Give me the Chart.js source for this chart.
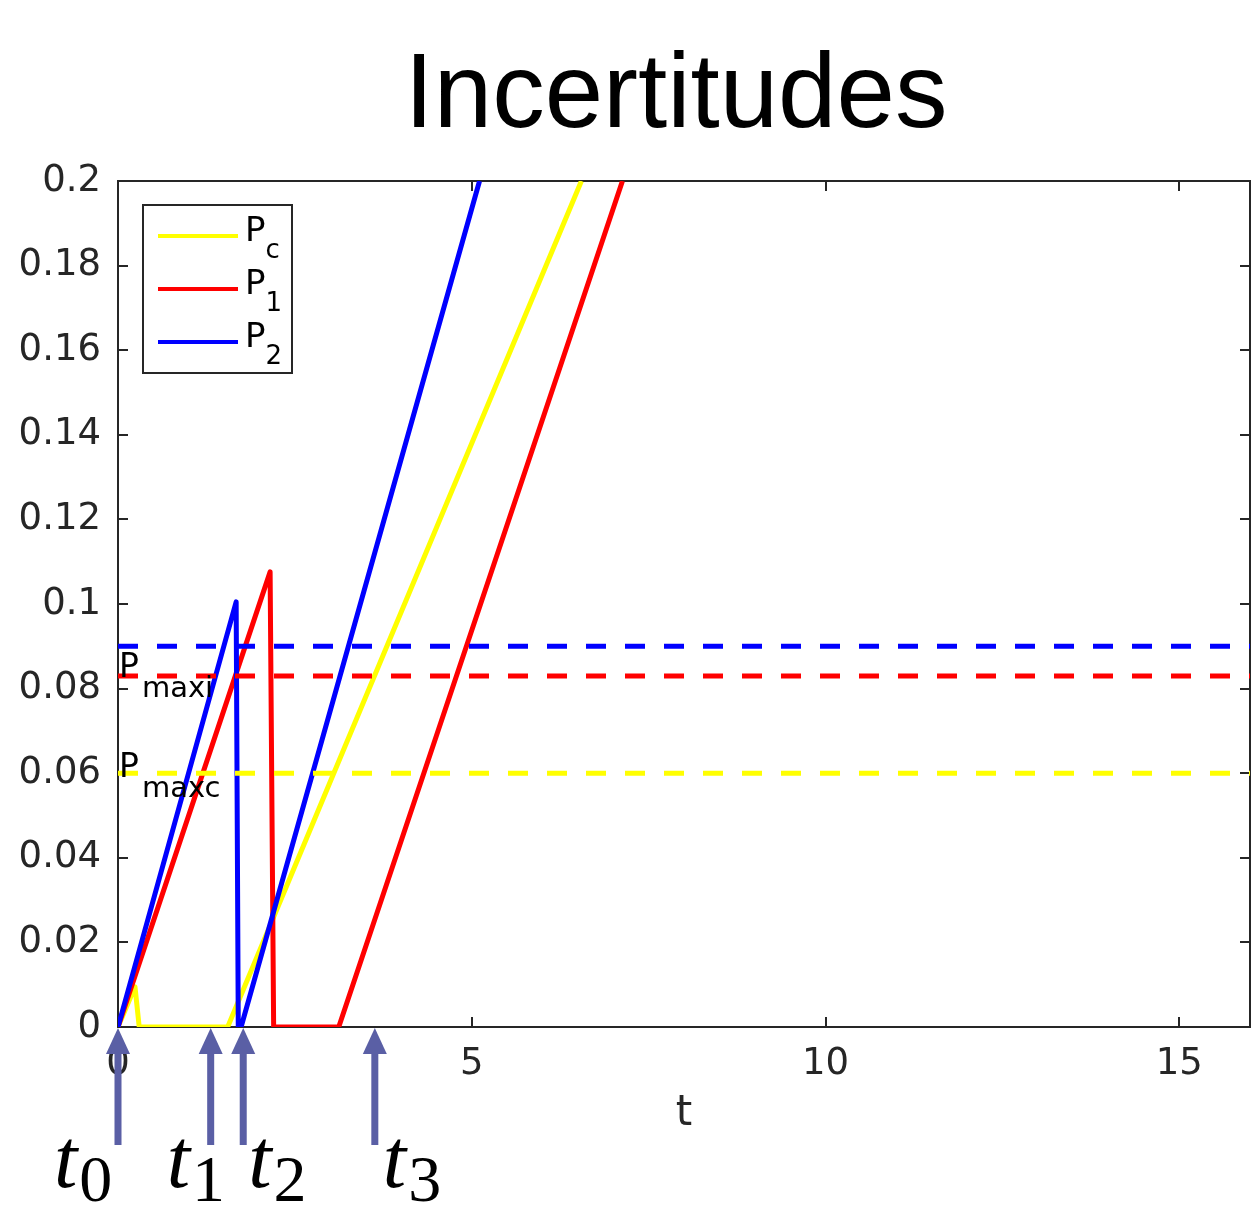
<!DOCTYPE html>
<html>
<head>
<meta charset="utf-8">
<title>Incertitudes</title>
<script src="https://cdn.jsdelivr.net/npm/chart.js@4.4.1/dist/chart.umd.min.js"></script>
<style>
  html, body { margin: 0; padding: 0; background: #fff; }
  #graf { display: block; }
</style>
</head>
<body>
<canvas id="graf" width="1252" height="1206"></canvas>
<script>
// courbes : temps et valeurs
const tempsPc = [0, 0.24, 0.3, 1.55, 6.55]
const valPc   = [0, 0.0095, 0, 0, 0.2]
const tempsP1 = [0, 2.15, 2.2, 3.12, 7.13]
const valP1   = [0, 0.1076, 0, 0, 0.2]
const tempsP2 = [0, 1.67, 1.70, 1.74, 5.11]
const valP2   = [0, 0.1005, 0, 0, 0.2]

// seuils (pointillés)
const seuilT = [0, 16]
const pmax2 = 0.09
const pmax1 = 0.083
const pmaxc = 0.06

// graduations
const ticksX = [0, 5, 10, 15]
const ticksY = [0, 0.02, 0.04, 0.06, 0.08, 0.1, 0.12, 0.14, 0.16, 0.18, 0.2]

// instants marqués par les flèches
const instants = [0, 1.31, 1.77, 3.63]
const indicesInstants = ['0', '1', '2', '3']

const AXE = '#262626'
const FLECHE = '#5a5fa5'

function pts(ts, vs){ return ts.map((t, i) => ({x: t, y: vs[i]})) }
function seuil(v){ return seuilT.map(t => ({x: t, y: v})) }

function indice(ctx, base, ind, x, y, fB, fI, dx, dy){
  ctx.font = fB
  ctx.fillText(base, x, y)
  const w = ctx.measureText(base).width
  ctx.font = fI
  ctx.fillText(ind, x + w + dx, y + dy)
}

const decor = {
  id: 'decor',
  beforeDatasetsDraw(chart){ // cadre sous les courbes (comme matlab)
    const ctx = chart.ctx
    const a = chart.chartArea
    const sx = chart.scales.x, sy = chart.scales.y
    ctx.save()
    ctx.strokeStyle = AXE
    ctx.lineWidth = 2
    ctx.strokeRect(a.left, a.top, a.right - a.left, a.bottom - a.top)
    ctx.beginPath()
    ticksX.forEach(v => {
      const px = Math.round(sx.getPixelForValue(v))
      ctx.moveTo(px, a.bottom); ctx.lineTo(px, a.bottom - 10)
      ctx.moveTo(px, a.top); ctx.lineTo(px, a.top + 10)
    })
    ticksY.forEach(v => {
      const py = Math.round(sy.getPixelForValue(v))
      ctx.moveTo(a.left, py); ctx.lineTo(a.left + 10, py)
      ctx.moveTo(a.right, py); ctx.lineTo(a.right - 10, py)
    })
    ctx.stroke()
    ctx.restore()
  },
  afterDraw(chart){
    const ctx = chart.ctx
    const sx = chart.scales.x
    ctx.save()

    // titre
    ctx.fillStyle = '#000'
    ctx.font = '105px "Liberation Sans", Arial, sans-serif'
    ctx.textAlign = 'center'
    ctx.textBaseline = 'alphabetic'
    ctx.fillText('Incertitudes', 676, 127)

    // titre axe x
    ctx.fillStyle = AXE
    ctx.font = '42px "DejaVu Sans"'
    ctx.fillText('t', 684, 1125)

    // légende
    ctx.fillStyle = '#fff'
    ctx.fillRect(143, 205, 149, 168)
    ctx.strokeStyle = AXE
    ctx.lineWidth = 2
    ctx.strokeRect(143, 205, 149, 168)
    const leg = [['#ffff00', 'c'], ['#ff0000', '1'], ['#0000ff', '2']]
    ctx.textAlign = 'left'
    leg.forEach((l, i) => {
      const y = 236 + i * 53
      ctx.strokeStyle = l[0]
      ctx.lineWidth = 4
      ctx.beginPath(); ctx.moveTo(158, y); ctx.lineTo(238, y); ctx.stroke()
      ctx.fillStyle = '#000'
      indice(ctx, 'P', l[1], 245, y + 5, '34px "DejaVu Sans"', '26px "DejaVu Sans"', 0, 17)
    })

    // étiquettes des seuils
    ctx.fillStyle = '#000'
    indice(ctx, 'P', 'maxi', 119, 677, '33px "DejaVu Sans"', '29px "DejaVu Sans"', 3, 20)
    indice(ctx, 'P', 'maxc', 119, 777, '33px "DejaVu Sans"', '29px "DejaVu Sans"', 3, 20)

    // flèches sous l'axe
    const decal = [-64, -44, 5, 8]
    instants.forEach((t, i) => {
      const px = sx.getPixelForValue(t)
      ctx.fillStyle = FLECHE
      ctx.fillRect(px - 3.5, 1052, 7, 93)
      ctx.beginPath()
      ctx.moveTo(px, 1028)
      ctx.lineTo(px - 12, 1054)
      ctx.lineTo(px + 12, 1054)
      ctx.closePath()
      ctx.fill()
      ctx.fillStyle = '#000'
      ctx.textAlign = 'left'
      indice(ctx, 't', indicesInstants[i], px + decal[i], 1187,
        'italic 84px "Liberation Serif", serif', '66px "Liberation Serif", serif', 2, 14)
    })
    ctx.restore()
  }
}

const ctx = document.getElementById('graf').getContext('2d')
const graf = new Chart(ctx, {
  type: 'line',
  data: {
    datasets: [
      {label: 'Pmax2', data: seuil(pmax2), borderColor: '#0000ff', borderDash: [20, 19]},
      {label: 'Pmax1', data: seuil(pmax1), borderColor: '#ff0000', borderDash: [20, 19]},
      {label: 'Pmaxc', data: seuil(pmaxc), borderColor: '#ffff00', borderDash: [20, 19]},
      {label: 'P2', data: pts(tempsP2, valP2), borderColor: '#0000ff'},
      {label: 'P1', data: pts(tempsP1, valP1), borderColor: '#ff0000'},
      {label: 'Pc', data: pts(tempsPc, valPc), borderColor: '#ffff00'}
    ].map(d => Object.assign(d, {borderWidth: 5, borderJoinStyle: 'round', pointRadius: 0, tension: 0, fill: false}))
  },
  options: {
    responsive: false,
    animation: false,
    events: [],
    layout: {padding: {top: 181, right: 2, left: 0, bottom: 0}},
    scales: {
      x: {
        type: 'linear', min: 0, max: 16,
        grid: {display: false, drawTicks: false},
        border: {display: false},
        afterBuildTicks: s => { s.ticks = ticksX.map(v => ({value: v})) },
        afterFit: s => { s.height = 179 },
        ticks: {color: AXE, padding: 15, font: {family: 'DejaVu Sans', size: 37}, maxRotation: 0}
      },
      y: {
        type: 'linear', min: 0, max: 0.2,
        grid: {display: false, drawTicks: false},
        border: {display: false},
        afterBuildTicks: s => { s.ticks = ticksY.map(v => ({value: v})) },
        afterFit: s => { s.width = 118 },
        ticks: {
          color: AXE, padding: 17, font: {family: 'DejaVu Sans', size: 37},
          callback: v => String(Number(v.toFixed(2)))
        }
      }
    },
    plugins: {
      legend: {display: false},
      title: {display: false},
      tooltip: {enabled: false}
    }
  },
  plugins: [decor]
})
</script>
</body>
</html>
